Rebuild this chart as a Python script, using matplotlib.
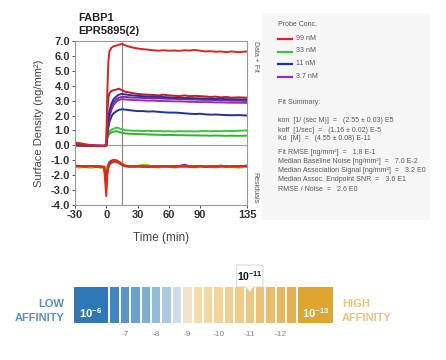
import numpy as np
import matplotlib
matplotlib.use("Agg")
import matplotlib.pyplot as plt
from matplotlib.patches import Rectangle, Polygon, FancyBboxPatch

plt.rcParams['font.family'] = ['Liberation Sans', 'DejaVu Sans']
plt.rcParams['axes.unicode_minus'] = False
plt.rcParams['mathtext.fontset'] = 'custom'
plt.rcParams['mathtext.rm'] = 'Liberation Sans'
plt.rcParams['mathtext.bf'] = 'Liberation Sans:bold'

# sensorgram data (time in min, surface density in ng/mm2)
timeMin = [-30, -26, -22, -18, -14, -10, -6, -2, 0, 1, 2, 3, 5, 7, 10, 12, 15, 18, 22, 26, 30,
           35, 40, 45, 50, 55, 60, 65, 70, 75, 80, 85, 90, 95, 100, 105, 110, 115, 120, 127, 135]

red99a = [0.2, 0.15, 0.1, 0.05, 0.0, -0.05, -0.05, -0.05, 0.0, 3.6, 5.6, 6.3, 6.55, 6.65, 6.7, 6.75, 6.8,
          6.72, 6.62, 6.55, 6.5, 6.45, 6.42, 6.38, 6.35, 6.38, 6.35, 6.36, 6.34, 6.38, 6.36, 6.4, 6.35,
          6.3, 6.32, 6.28, 6.3, 6.25, 6.3, 6.25, 6.3]
red99b = [0.1, 0.05, 0.0, 0.02, -0.02, -0.05, -0.03, -0.05, 0.0, 2.3, 3.2, 3.5, 3.65, 3.7, 3.75, 3.8, 3.7,
          3.6, 3.55, 3.5, 3.45, 3.42, 3.4, 3.38, 3.35, 3.4, 3.35, 3.33, 3.3, 3.35, 3.3, 3.32, 3.3,
          3.28, 3.25, 3.27, 3.22, 3.25, 3.2, 3.22, 3.2]
blue11a = [0.05, 0.0, 0.02, -0.02, 0.0, -0.03, -0.02, -0.04, 0.0, 1.0, 1.8, 2.3, 2.8, 3.1, 3.3, 3.4, 3.45,
           3.42, 3.38, 3.35, 3.32, 3.3, 3.28, 3.26, 3.25, 3.24, 3.22, 3.2, 3.2, 3.18, 3.17, 3.16, 3.15,
           3.14, 3.14, 3.12, 3.12, 3.1, 3.1, 3.08, 3.08]
purple37a = [0.0, 0.03, 0.0, -0.02, 0.01, -0.03, -0.02, -0.03, 0.0, 0.9, 1.6, 2.1, 2.6, 2.9, 3.1, 3.2, 3.25,
             3.25, 3.22, 3.2, 3.2, 3.18, 3.17, 3.15, 3.15, 3.14, 3.12, 3.12, 3.1, 3.1, 3.08, 3.08, 3.06,
             3.05, 3.05, 3.04, 3.02, 3.02, 3.0, 3.0, 2.98]
purple37b = [0.02, 0.0, -0.02, 0.0, -0.02, 0.0, -0.03, -0.02, 0.0, 0.8, 1.4, 1.9, 2.4, 2.7, 2.95, 3.05, 3.1,
             3.08, 3.06, 3.04, 3.03, 3.02, 3.0, 3.0, 2.98, 2.97, 2.96, 2.95, 2.95, 2.94, 2.92, 2.92, 2.9,
             2.9, 2.9, 2.88, 2.88, 2.87, 2.86, 2.86, 2.85]
blue11b = [0.0, 0.02, -0.02, 0.0, -0.03, -0.02, -0.04, -0.03, 0.0, 0.7, 1.2, 1.55, 1.95, 2.15, 2.3, 2.38, 2.42,
           2.4, 2.36, 2.33, 2.3, 2.3, 2.27, 2.28, 2.25, 2.22, 2.2, 2.2, 2.18, 2.15, 2.12, 2.1, 2.12,
           2.08, 2.06, 2.07, 2.05, 2.03, 2.02, 2.03, 2.0]
green33a = [0.0, -0.03, 0.0, -0.05, -0.02, -0.04, -0.05, -0.03, 0.0, 0.55, 0.8, 0.95, 1.05, 1.12, 1.2, 1.15, 1.08,
            1.02, 1.0, 0.98, 0.98, 0.96, 0.98, 0.95, 0.96, 0.94, 0.95, 0.93, 0.95, 0.94, 0.95, 0.93, 0.95,
            0.96, 0.94, 0.96, 0.95, 0.97, 0.96, 0.98, 1.0]
green33b = [-0.05, -0.02, -0.05, -0.03, -0.06, -0.03, -0.05, -0.04, 0.0, 0.45, 0.65, 0.78, 0.88, 0.92, 0.95, 0.9, 0.85,
            0.8, 0.78, 0.77, 0.76, 0.75, 0.73, 0.72, 0.71, 0.7, 0.7, 0.69, 0.68, 0.68, 0.67, 0.67, 0.66,
            0.66, 0.65, 0.66, 0.65, 0.64, 0.65, 0.64, 0.65]

# residuals (offset to -1.4)
resGreen = [-1.45, -1.5, -1.45, -1.48, -1.5, -1.45, -1.5, -1.5, -1.6, -1.45, -1.3, -1.25, -1.2, -1.15, -1.15, -1.2, -1.3,
            -1.4, -1.45, -1.42, -1.38, -1.3, -1.32, -1.45, -1.48, -1.45, -1.42, -1.5, -1.45, -1.3, -1.45, -1.48, -1.45,
            -1.42, -1.45, -1.48, -1.44, -1.42, -1.45, -1.5, -1.45]
resPurple = [-1.4, -1.38, -1.42, -1.4, -1.38, -1.42, -1.4, -1.45, -2.5, -1.5, -1.25, -1.1, -1.02, -0.98, -1.0, -1.1, -1.3,
             -1.38, -1.4, -1.42, -1.4, -1.38, -1.4, -1.42, -1.4, -1.38, -1.42, -1.4, -1.38, -1.3, -1.4, -1.42, -1.4,
             -1.38, -1.4, -1.42, -1.38, -1.4, -1.42, -1.4, -1.38]
resOrange = [-1.4, -1.42, -1.4, -1.38, -1.42, -1.4, -1.42, -1.4, -1.6, -1.4, -1.25, -1.18, -1.12, -1.05, -1.05, -1.1, -1.2,
             -1.35, -1.4, -1.42, -1.4, -1.42, -1.4, -1.38, -1.42, -1.4, -1.38, -1.42, -1.4, -1.42, -1.4, -1.38, -1.42,
             -1.4, -1.42, -1.4, -1.38, -1.42, -1.4, -1.38, -1.4]
resRed = [-1.35, -1.4, -1.42, -1.38, -1.4, -1.45, -1.4, -1.5, -3.4, -2.0, -1.5, -1.3, -1.15, -1.05, -1.05, -1.1, -1.25,
          -1.35, -1.4, -1.42, -1.4, -1.45, -1.42, -1.4, -1.44, -1.4, -1.42, -1.38, -1.42, -1.4, -1.45, -1.4, -1.38,
          -1.42, -1.4, -1.44, -1.35, -1.45, -1.38, -1.42, -1.35]
resDarkRed = [-1.4, -1.38, -1.4, -1.42, -1.38, -1.4, -1.42, -1.45, -2.7, -1.7, -1.35, -1.2, -1.1, -1.08, -1.1, -1.15, -1.3,
              -1.4, -1.42, -1.4, -1.42, -1.4, -1.45, -1.42, -1.4, -1.42, -1.4, -1.44, -1.4, -1.42, -1.4, -1.42, -1.4,
              -1.45, -1.42, -1.4, -1.42, -1.4, -1.42, -1.4, -1.4]

probeLabels = ["99 nM", "33 nM", "11 nM", "3.7 nM"]
probeColors = ["#d8261e", "#3cc43c", "#1e3596", "#9a2db0"]

fitSummary = ["kon  [1/ (sec M)]  =   (2.55 \u00b1 0.03) E5",
              "koff  [1/sec]  =   (1.16 \u00b1 0.02) E-5",
              "Kd  [M]  =   (4.55 \u00b1 0.08) E-11"]
fitStats = ["Fit RMSE [ng/mm\u00b2]  =   1.8 E-1",
            "Median Baseline Noise [ng/mm\u00b2]  =   7.0 E-2",
            "Median Association Signal [ng/mm\u00b2]  =   3.2 E0",
            "Median Assoc. Endpoint SNR  =   3.6 E1",
            "RMSE / Noise  =   2.6 E0"]

# affinity scale
affinityTicks = [7, 8, 9, 10, 11, 12]
kdExponent = 11
stripeColors = ["#3f86c2", "#5896c9", "#6aa1ce", "#7eaed4", "#93bbda", "#abcae2", "#cfdcea",
                "#f2e4cc", "#f6dba8", "#f5d7a0", "#f3d398", "#f2cf90", "#f1cb88", "#efc67e",
                "#eec276", "#ecbd6c", "#e9b75e", "#e6b050"]

W, H = 446, 360
fig = plt.figure(figsize=(W / 100, H / 100), dpi=100)


def fx(x):
    return x / W


def fy(y):
    return 1 - y / H


# ---- sensorgram
ax = fig.add_axes([fx(75), fy(205), fx(247 - 75), (205 - 41) / H])
series = [(green33a, "#3cc43c"), (green33b, "#2fb52f"), (blue11b, "#1e3596"), (purple37b, "#9a2db0"),
          (purple37a, "#7d2aa5"), (blue11a, "#2b2f9c"), (red99b, "#b8202c"), (red99a, "#d8261e")]
for vals, col in series:
    ax.plot(timeMin, vals, color=col, lw=1.4)
for vals, col in [(resGreen, "#7ed321"), (resPurple, "#6a3aa8"), (resOrange, "#e8a020"),
                  (resDarkRed, "#c0202a"), (resRed, "#e52619")]:
    ax.plot(timeMin, vals, color=col, lw=1.4)
ax.axhline(0, color="#9a9a9a", lw=0.8, zorder=0)
ax.axvline(15, color="#8a8a8a", lw=0.9, zorder=0)
ax.set_xlim(-30, 135)
ax.set_ylim(-4, 7)
ax.set_xticks([-30, 0, 30, 60, 90, 135])
ax.set_yticks(np.arange(-4, 8, 1.0))
ax.set_yticklabels(["%.1f" % v for v in np.arange(-4, 8, 1.0)])
ax.tick_params(labelsize=8, colors="#333333", length=2, width=0.6, pad=1.5)
for lab in ax.get_xticklabels() + ax.get_yticklabels():
    lab.set_fontweight("bold")
for sp in ax.spines.values():
    sp.set_color("#9a9a9a")
    sp.set_linewidth(0.8)
ax.set_xlabel("Time (min)", fontsize=8.5, color="#444444", labelpad=9)
ax.set_ylabel("Surface Density (ng/mm\u00b2)", fontsize=8, color="#444444", labelpad=5)

fig.text(fx(78), fy(18), "FABP1", fontsize=8, fontweight="bold", color="#222222", va="center")
fig.text(fx(78), fy(31), "EPR5895(2)", fontsize=8, fontweight="bold", color="#222222", va="center")
fig.text(fx(255), fy(56), "Data + Fit", fontsize=5, color="#555555", rotation=-90, ha="center", va="center")
fig.text(fx(255), fy(188), "Residuals", fontsize=5, color="#555555", rotation=-90, ha="center", va="center")

# ---- info panel
fig.patches.append(Rectangle((fx(262), fy(220)), fx(430 - 262), (220 - 13) / H,
                             transform=fig.transFigure, facecolor="#f6f6f6", edgecolor="none", zorder=0))
fig.text(fx(278), fy(25), "Probe Conc.", fontsize=5, color="#555555", va="center")
for i, (lab, col) in enumerate(zip(probeLabels, probeColors)):
    yy = 38 + i * 12.7
    fig.add_artist(plt.Line2D([fx(278), fx(292)], [fy(yy + 1), fy(yy + 1)], color=col, lw=1.6))
    fig.text(fx(296), fy(yy), lab, fontsize=5, color="#555555", va="center")
fig.text(fx(278), fy(103), "Fit Summary:", fontsize=5, color="#555555", va="center")
for i, s in enumerate(fitSummary):
    fig.text(fx(278), fy(121 + i * 9), s, fontsize=5, color="#555555", va="center")
for i, s in enumerate(fitStats):
    fig.text(fx(278), fy(152 + i * 9.3), s, fontsize=5, color="#555555", va="center")

# ---- affinity bar (x in -log10 Kd units, y in pixels)
axA = fig.add_axes([0, 0, 1, (H - 250) / H])
axA.set_xlim(7 - 125 / 31.2, 7 + (W - 125) / 31.2)
axA.set_ylim(H, 250)
axA.axis("off")
barTop, barH = 287, 36
axA.bar(5.905, barH, width=1.09, bottom=barTop, color="#2e78b8", align="center")
axA.bar(13.105, barH, width=1.1, bottom=barTop, color="#dea530", align="center")
stripePos = 6.5 + (np.arange(len(stripeColors)) + 0.5) / 3
axA.bar(stripePos, barH, width=0.27, bottom=barTop, color=stripeColors, align="center")
axA.text(5.9, 313, "$\\mathbf{10^{-6}}$", color="white", fontsize=8, ha="center", va="center")
axA.text(13.1, 313, "$\\mathbf{10^{-13}}$", color="white", fontsize=8, ha="center", va="center")
for t in affinityTicks:
    axA.text(t, 335, "-%d" % t, color="#888888", fontsize=6, ha="center", va="center")
axA.text(5.05, 304, "LOW", color="#5b8fbf", fontsize=8, fontweight="bold", ha="right", va="center")
axA.text(5.05, 318, "AFFINITY", color="#5b8fbf", fontsize=8, fontweight="bold", ha="right", va="center")
axA.text(13.95, 304, "HIGH", color="#ecc27a", fontsize=8, fontweight="bold", ha="left", va="center")
axA.text(13.95, 318, "AFFINITY", color="#ecc27a", fontsize=8, fontweight="bold", ha="left", va="center")

# callout for measured Kd
axA.add_patch(FancyBboxPatch((kdExponent - 0.42, 265), 0.84, 22, boxstyle="round,pad=0,rounding_size=0.05",
                             facecolor="white", edgecolor="#d0d0d0", lw=0.6, zorder=5))
axA.add_patch(Polygon([[kdExponent - 0.12, 286.5], [kdExponent + 0.12, 286.5], [kdExponent, 292]],
                      closed=True, facecolor="white", edgecolor="none", zorder=6))
axA.text(kdExponent, 276, "$\\mathbf{10^{-%d}}$" % kdExponent, color="#111111", fontsize=7.5,
         ha="center", va="center", zorder=7)

fig.savefig("out.png", dpi=100)
